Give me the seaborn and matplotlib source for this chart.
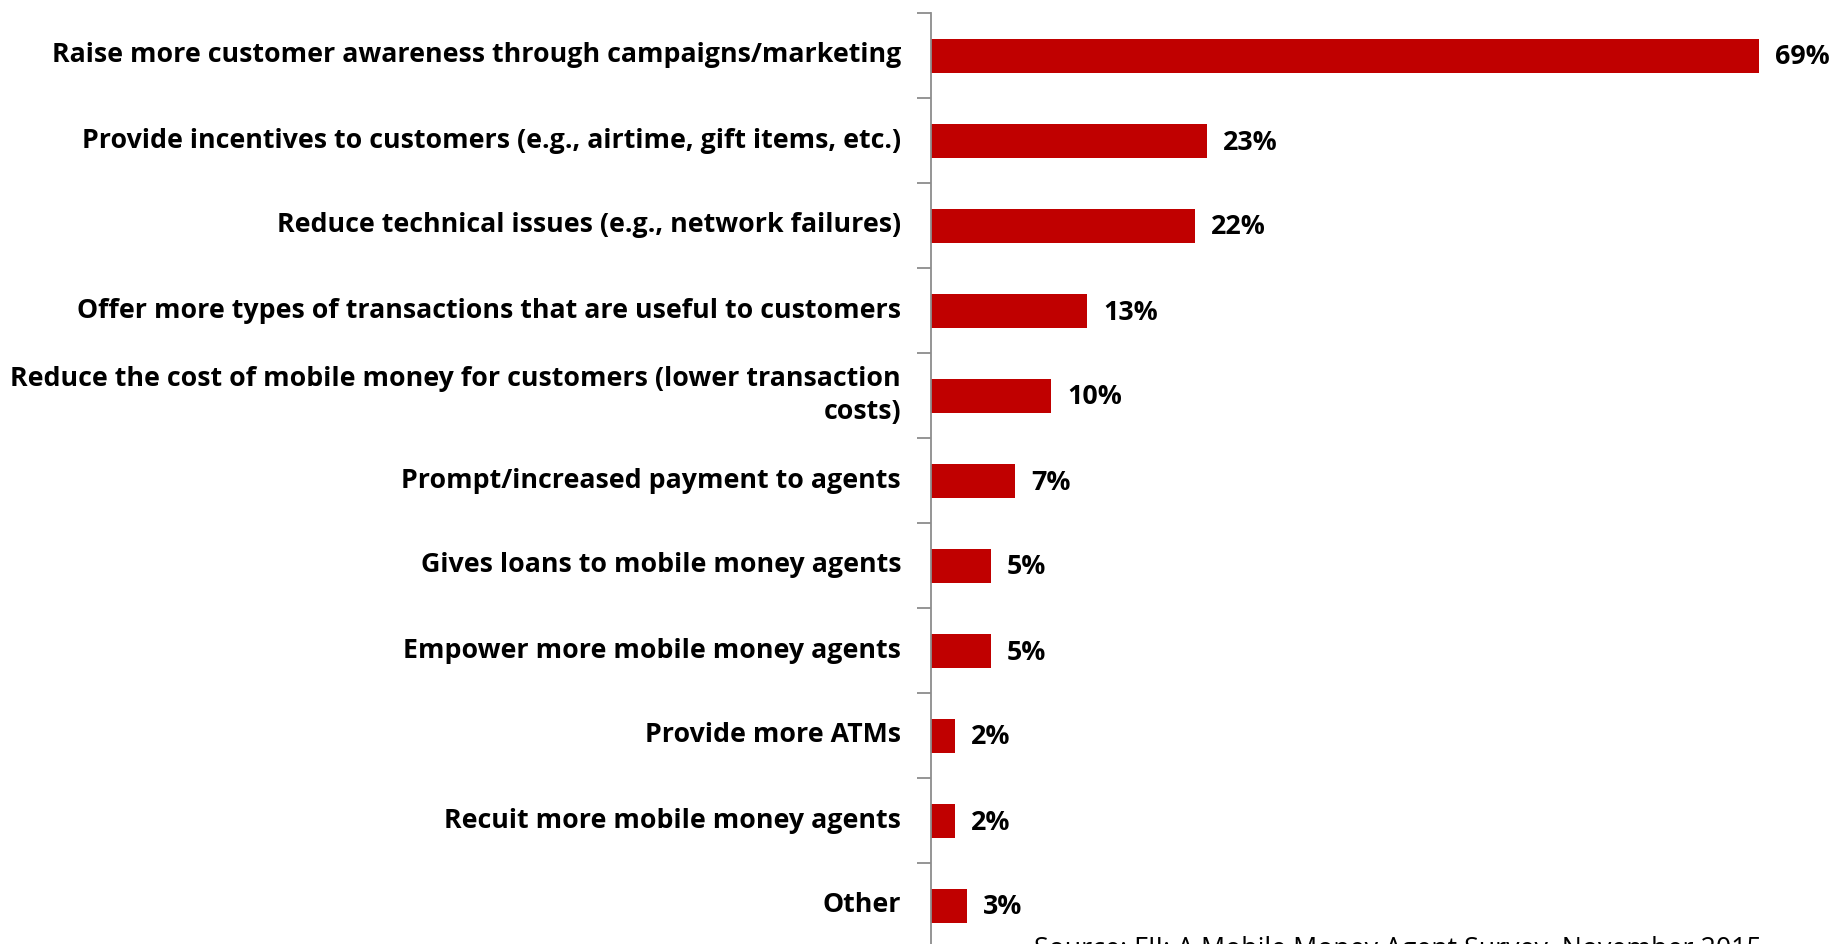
import matplotlib
matplotlib.use("Agg")
import matplotlib.pyplot as plt
import seaborn as sns
import pandas as pd
import numpy as np

categories = [
    "Raise more customer awareness through campaigns/marketing",
    "Provide incentives to customers (e.g., airtime, gift items, etc.)",
    "Reduce technical issues (e.g., network failures)",
    "Offer more types of transactions that are useful to customers",
    "Reduce the cost of mobile money for customers (lower transaction\ncosts)",
    "Prompt/increased payment to agents",
    "Gives loans to mobile money agents",
    "Empower more mobile money agents",
    "Provide more ATMs",
    "Recuit more mobile money agents",
    "Other",
]
values = [69, 23, 22, 13, 10, 7, 5, 5, 2, 2, 3]
value_labels = [f"{v}%" for v in values]
source_text = "Source: FII: A Mobile Money Agent Survey, November 2015"

sns.set_theme(style="white")
plt.rcParams["font.family"] = ["Open Sans", "DejaVu Sans"]

df = pd.DataFrame({"category": categories, "value": values})

W, H = 1835, 944
fig = plt.figure(figsize=(W / 100, H / 100), dpi=100)
ax_left = 931 / W
ax_top = 13 / H
ax_bottom = -4 / H
ax = fig.add_axes([ax_left, ax_bottom, 1 - ax_left, 1 - ax_top - ax_bottom])

sns.barplot(data=df, x="value", y="category", orient="h", color="#C00000",
            saturation=1, width=0.4, ax=ax, edgecolor="none")

ax.set_xlim(0, (W - 931) / 12)
ax.set_ylim(len(categories) - 0.5, -0.5)
ax.set_xlabel("")
ax.set_ylabel("")
ax.set_xticks([])

for s in ["top", "right", "bottom"]:
    ax.spines[s].set_visible(False)
ax.spines["left"].set_color("#8c8c8c")
ax.spines["left"].set_linewidth(1.3)

# category labels placed manually so wrapped text aligns right
ax.set_yticks(np.arange(len(categories)))
ax.set_yticklabels([])
ax.tick_params(axis="y", which="major", length=0)
ax.set_yticks(np.arange(-0.5, len(categories) + 0.5, 1), minor=True)
ax.tick_params(axis="y", which="minor", length=10, width=1.3, color="#8c8c8c", left=True)

for i, (cat, lab, v) in enumerate(zip(categories, value_labels, values)):
    ax.annotate(cat, xy=(0, i), xytext=(-30, 0), textcoords="offset pixels",
                ha="right", va="center", ma="right", fontsize=19.3, fontweight="bold",
                color="black", linespacing=1.3)
    ax.annotate(lab, xy=(v, i), xytext=(16, -2), textcoords="offset pixels",
                ha="left", va="center", fontsize=19.3, fontweight="bold", color="black")

fig.text(1034 / W, 1 - 936 / H, source_text, ha="left", va="top",
         fontsize=19.3, color="black")

fig.savefig("out.png", dpi=100)
